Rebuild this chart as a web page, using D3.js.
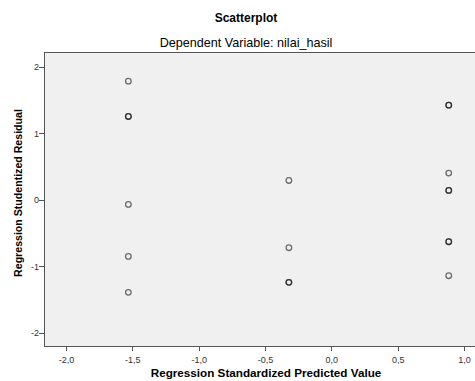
<!DOCTYPE html>
<html>
<head>
<meta charset="utf-8">
<script src="https://cdn.jsdelivr.net/npm/d3@7"></script>
<style>
  body { margin: 0; background: #fff; }
  text { font-family: "Liberation Sans", Arial, sans-serif; }
</style>
</head>
<body>
<div id="chart"></div>
<script>
// predicted (x) and studentized residual (y); repeated pairs are overlapping cases
var predicted = [-1.53, -1.53, -1.53, -1.53, -1.53, -1.53,
                 -0.32, -0.32, -0.32, -0.32,
                 0.885, 0.885, 0.885, 0.885, 0.885, 0.885, 0.885, 0.885];
var residual  = [1.78, 1.25, 1.25, -0.07, -0.85, -1.39,
                 0.29, -0.72, -1.24, -1.24,
                 1.42, 1.42, 0.40, 0.14, 0.14, -0.63, -0.63, -1.14];
var xTicks = [-2.0, -1.5, -1.0, -0.5, 0.0, 0.5, 1.0];
var yTicks = [-2, -1, 0, 1, 2];

var W = 475, H = 381;
var margin = {top: 52, right: -6, bottom: 35, left: 44};
var width = W - margin.left - margin.right,
    height = H - margin.top - margin.bottom;

var svg = d3.select("#chart").append("svg")
    .attr("width", W)
    .attr("height", H);

svg.append("text")
    .attr("x", 246).attr("y", 22)
    .attr("text-anchor", "middle")
    .style("font-size", "12px").style("font-weight", "bold")
    .text("Scatterplot");
svg.append("text")
    .attr("x", 246).attr("y", 47)
    .attr("text-anchor", "middle")
    .style("font-size", "12.6px")
    .text("Dependent Variable: nilai_hasil");

var g = svg.append("g")
    .attr("transform", "translate(" + margin.left + "," + margin.top + ")");

// x(-2)=66, x(1)=464 in page px
var x = d3.scaleLinear().domain([-2, 1]).range([66 - margin.left, 464 - margin.left]);
var y = d3.scaleLinear().domain([-2, 2]).range([333 - margin.top, 66.5 - margin.top]);

g.append("rect")
    .attr("width", width).attr("height", height)
    .attr("fill", "#f0f0f0")
    .attr("stroke", "#555").attr("stroke-width", 1)
    .attr("shape-rendering", "crispEdges");

var fmt = function(d){ return d3.format(".1f")(d).replace(".", ",").replace("−", "-"); };

var xAxis = g.append("g")
    .attr("transform", "translate(0," + height + ")")
    .call(d3.axisBottom(x).tickValues(xTicks).tickSize(5).tickFormat(fmt));
var yAxis = g.append("g")
    .call(d3.axisLeft(y).tickValues(yTicks).tickSize(5).tickFormat(function(d){ return String(d); }));

[xAxis, yAxis].forEach(function(a){
  a.select(".domain").remove();
  a.selectAll("line").attr("stroke", "#555").attr("shape-rendering", "crispEdges");
  a.selectAll("text").style("font-size", "9px").attr("fill", "#333")
    .style("font-family", "'Liberation Sans', Arial, sans-serif");
});
xAxis.selectAll("text").attr("dy", "1.0em");
yAxis.selectAll("text").attr("x", -5);

var pts = predicted.map(function(p, i){ return {x: p, y: residual[i]}; });
g.selectAll("circle.pt")
    .data(pts)
    .enter().append("circle")
    .attr("class", "pt")
    .attr("cx", function(d){ return x(d.x); })
    .attr("cy", function(d){ return y(d.y); })
    .attr("r", 2.8)
    .attr("fill", "none")
    .attr("stroke", "#000")
    .attr("stroke-opacity", 0.55)
    .attr("stroke-width", 1.3);

svg.append("text")
    .attr("x", 266).attr("y", 377)
    .attr("text-anchor", "middle")
    .style("font-size", "11.7px").style("font-weight", "bold")
    .text("Regression Standardized Predicted Value");
svg.append("text")
    .attr("transform", "translate(22,193) rotate(-90)")
    .attr("text-anchor", "middle")
    .style("font-size", "10.6px").style("font-weight", "bold")
    .text("Regression Studentized Residual");
</script>
</body>
</html>
